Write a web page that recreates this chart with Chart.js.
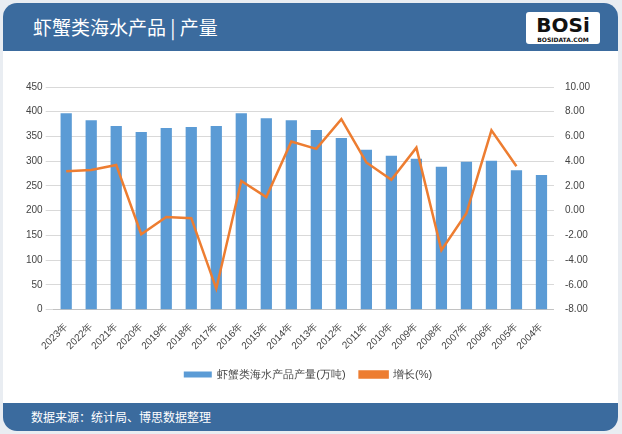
<!DOCTYPE html>
<html><head><meta charset="utf-8">
<script src="https://cdn.jsdelivr.net/npm/chart.js@4"></script>
<style>
body{margin:0;background:#e9edf2;font-family:"Noto Sans CJK SC",sans-serif;}
#wrap{position:absolute;left:3px;top:3px;width:615px;height:428px;background:#fff;border-radius:14px;overflow:hidden;}
#hd{position:absolute;left:0;top:0;width:100%;height:48px;background:#3b6b9e;color:#fff;font-size:19px;line-height:48px;padding-left:30px;box-sizing:border-box;}
#logo{position:absolute;right:18px;top:9px;width:74px;height:32px;background:#fff;border-radius:3px;color:#111;font:bold 20px "DejaVu Sans";text-align:center;line-height:26px;}
#logo small{position:absolute;left:0;right:0;bottom:1px;font-size:6px;line-height:6px;}
#ft{position:absolute;left:0;bottom:0;width:100%;height:28px;background:#3b6b9e;color:#fff;font-size:12px;line-height:28px;padding-left:28px;box-sizing:border-box;}
#c{position:absolute;left:0;top:75px;}
</style></head><body>
<div id="wrap">
<div id="hd">虾蟹类海水产品 | 产量<div id="logo">BOSi<small>BOSIDATA.COM</small></div></div>
<canvas id="c" width="615" height="312" style="width:615px;height:312px"></canvas>
<div id="ft">数据来源：统计局、博思数据整理</div>
</div>
<script>
const categories=["2023年","2022年","2021年","2020年","2019年","2018年","2017年","2016年","2015年","2014年","2013年","2012年","2011年","2010年","2009年","2008年","2007年","2006年","2005年","2004年"];
const production=[397,383,371,359,367,369,371,397,387,383,363,347,323,311,305,289,299,301,282,272];
const growth=[3.2,3.3,3.7,-1.9,-0.5,-0.6,-6.3,2.4,1.1,5.6,5.0,7.4,3.9,2.5,5.1,-3.2,-0.2,6.5,3.6,null];
new Chart(document.getElementById('c'),{
 data:{labels:categories,datasets:[
  {type:'bar',label:'虾蟹类海水产品产量(万吨)',data:production,backgroundColor:'#5b9bd5',yAxisID:'y',barPercentage:0.45,categoryPercentage:1,order:2},
  {type:'line',label:'增长(%)',data:growth,borderColor:'#ed7d31',backgroundColor:'#ed7d31',borderWidth:2.5,pointRadius:0,yAxisID:'y1',tension:0,order:1}
 ]},
 options:{responsive:false,animation:false,
  layout:{padding:{left:20,right:25,top:0,bottom:0}},
  plugins:{legend:{position:'bottom',labels:{boxWidth:28,boxHeight:6,font:{size:11},color:'#444',padding:14,sort:(a,b)=>a.datasetIndex-b.datasetIndex}},tooltip:{enabled:false}},
  scales:{
   x:{grid:{display:false},ticks:{maxRotation:45,minRotation:45,font:{size:10},color:'#444',autoSkip:false}},
   y:{min:0,max:450,ticks:{stepSize:50,font:{size:10},color:'#444'},grid:{color:'#d9d9d9'},border:{display:false}},
   y1:{position:'right',min:-8,max:10,ticks:{stepSize:2,font:{size:10},color:'#444',callback:v=>v.toFixed(2)},grid:{display:false},border:{display:false}}
  }}
});
</script></body></html>
